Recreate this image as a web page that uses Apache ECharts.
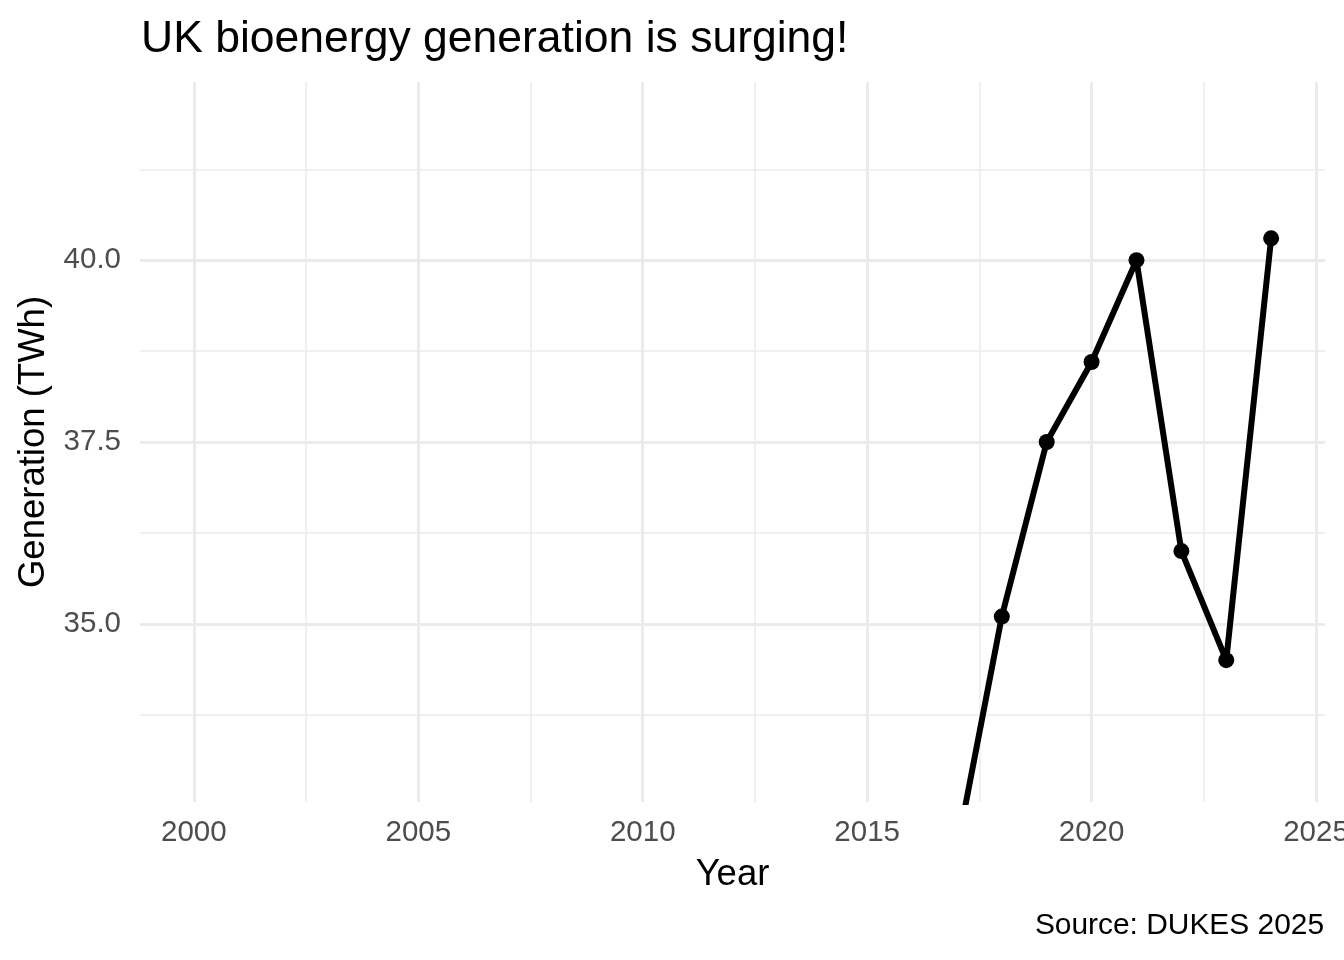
<!DOCTYPE html>
<html>
<head>
<meta charset="utf-8">
<title>UK bioenergy generation</title>
<script src="https://cdn.jsdelivr.net/npm/echarts@6/dist/echarts.min.js"></script>
<style>
    html, body { margin: 0; padding: 0; background: #fff; }
    #chart { width: 1344px; height: 960px; }
</style>
</head>
<body>
<div id="chart"></div>
<script>
    // DUKES bioenergy generation (TWh)
    var years = [2017, 2018, 2019, 2020, 2021, 2022, 2023, 2024];
    var generation = [31.9, 35.1, 37.5, 38.6, 40.0, 36.0, 34.5, 40.3];

    var xMajor = [2000, 2005, 2010, 2015, 2020, 2025];
    var xMinor = [2002.5, 2007.5, 2012.5, 2017.5, 2022.5];
    var yMajor = [35, 37.5, 40];
    var yMinor = [33.75, 36.25, 38.75, 41.25];

    var font = '"Liberation Sans", Arial, sans-serif';
    var gridCol = '#ebebeb';

    var points = years.map(function (y, i) { return [y, generation[i]]; });

    var myChart = echarts.init(document.getElementById('chart'));

    option = {
        backgroundColor: '#fff',
        animation: false,
        title: [{
            text: 'UK bioenergy generation is surging!',
            left: 136,
            top: 12,
            textStyle: { fontFamily: font, fontSize: 44.5, fontWeight: 'normal', color: '#000' }
        }, {
            text: 'Source: DUKES 2025',
            right: 15,
            top: 906,
            textStyle: { fontFamily: font, fontSize: 29.9, fontWeight: 'normal', color: '#000' }
        }],
        grid: { left: 140, right: 19, top: 82, bottom: 158, outerBoundsMode: 'none' },
        xAxis: [{
            type: 'value',
            min: 1998.8,
            max: 2025.2,
            name: 'Year',
            nameLocation: 'middle',
            nameGap: 54,
            nameTextStyle: { fontFamily: font, fontSize: 36.5, color: '#000' },
            axisLine: { show: false },
            axisTick: { show: false, customValues: xMajor },
            axisLabel: {
                customValues: xMajor,
                margin: 16,
                fontFamily: font, fontSize: 29.5, color: '#4d4d4d',
                formatter: function (v) { return String(v); }
            },
            splitLine: { show: true, lineStyle: { color: gridCol, width: 3 } }
        }, {
            type: 'value',
            min: 1998.8,
            max: 2025.2,
            axisLine: { show: false },
            axisTick: { show: false, customValues: xMinor },
            axisLabel: { show: false, customValues: xMinor },
            splitLine: { show: true, lineStyle: { color: gridCol, width: 1.5 } }
        }],
        yAxis: [{
            type: 'value',
            min: 32.55,
            max: 42.45,
            name: 'Generation (TWh)',
            nameLocation: 'middle',
            nameGap: 87,
            nameTextStyle: { fontFamily: font, fontSize: 36.5, color: '#000' },
            axisLine: { show: false },
            axisTick: { show: false, customValues: yMajor },
            axisLabel: {
                customValues: yMajor,
                margin: 19,
                fontFamily: font, fontSize: 29.5, color: '#4d4d4d',
                formatter: function (v) { return v.toFixed(1); }
            },
            splitLine: { show: true, lineStyle: { color: gridCol, width: 3 } }
        }, {
            type: 'value',
            min: 32.55,
            max: 42.45,
            position: 'left',
            axisLine: { show: false },
            axisTick: { show: false, customValues: yMinor },
            axisLabel: { show: false, customValues: yMinor },
            splitLine: { show: true, lineStyle: { color: gridCol, width: 1.5 } }
        }],
        series: [{
            name: 'Bioenergy',
            type: 'line',
            xAxisIndex: 0,
            yAxisIndex: 0,
            clip: true,
            data: points,
            symbol: 'circle',
            symbolSize: 16,
            showAllSymbol: true,
            lineStyle: { color: '#000', width: 6 },
            itemStyle: { color: '#000' },
            z: 5
        }]
    };

    myChart.setOption(option);
</script>
</body>
</html>
